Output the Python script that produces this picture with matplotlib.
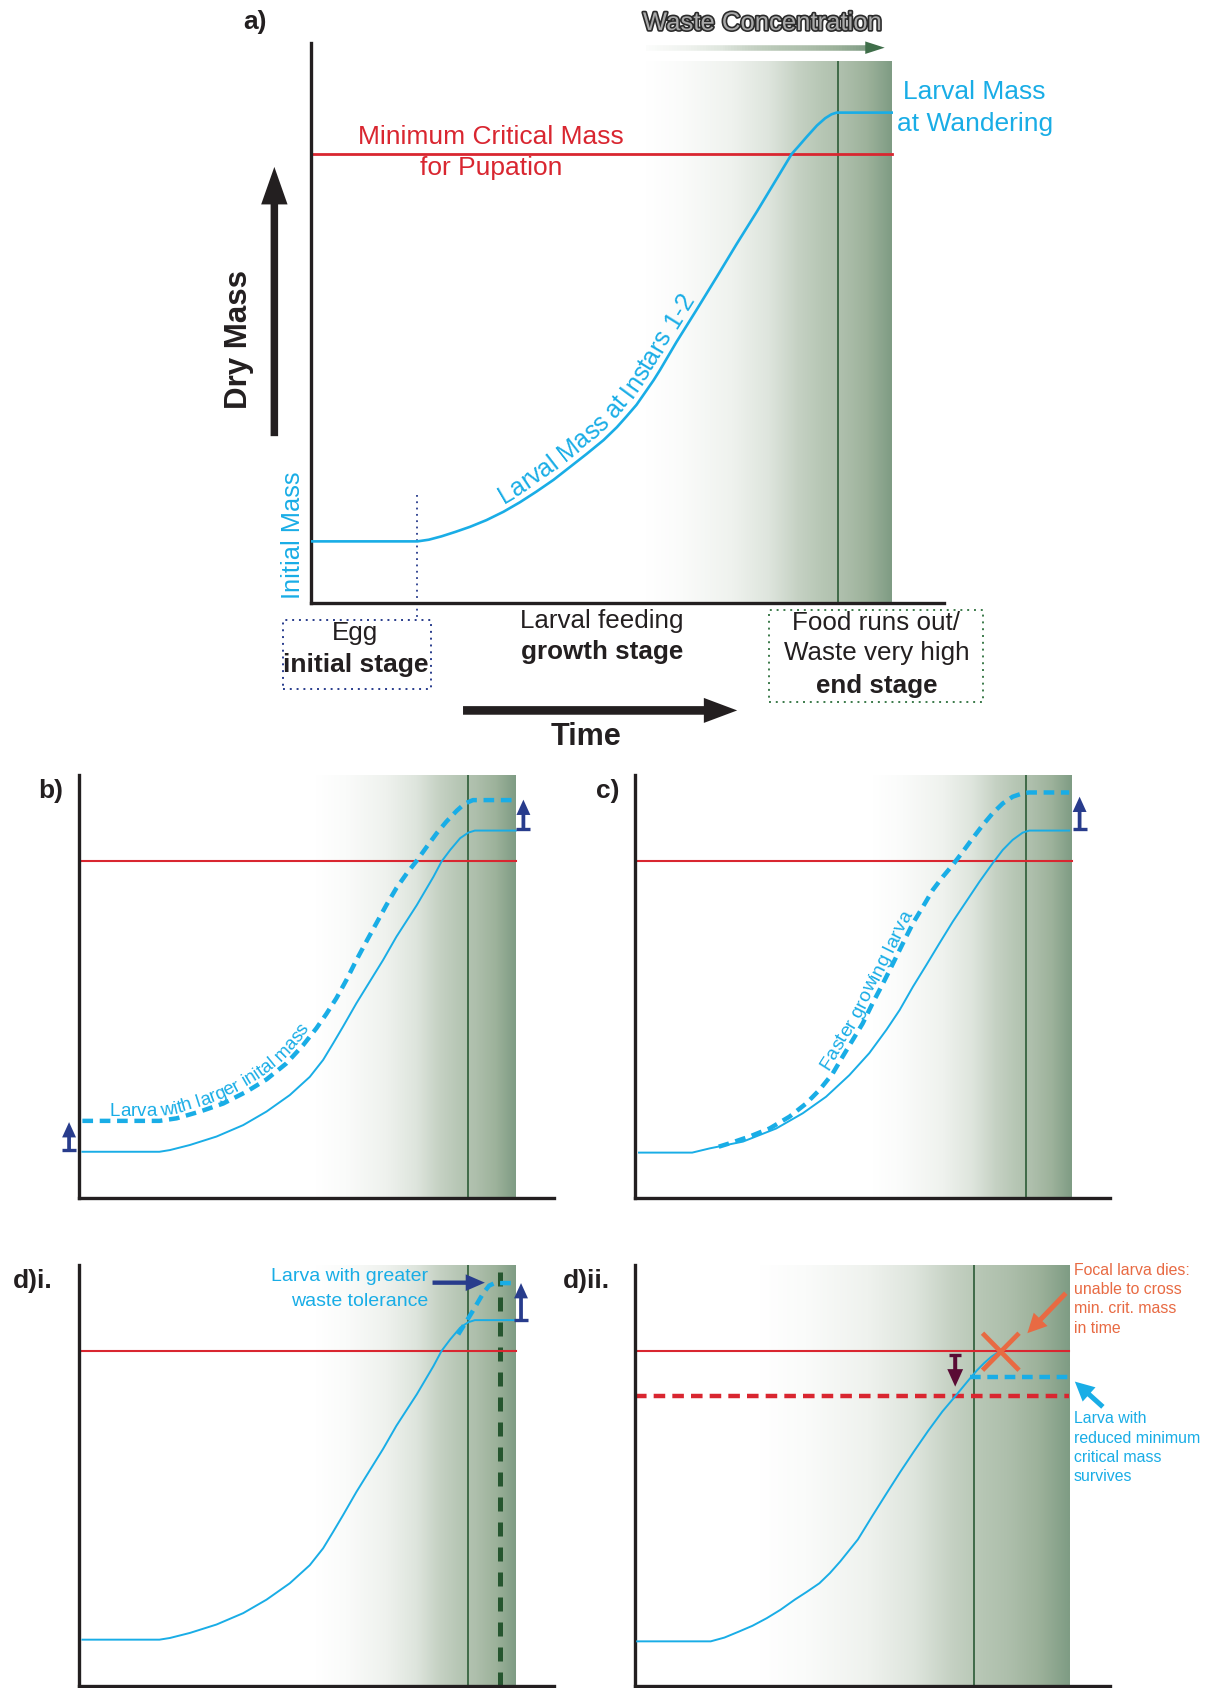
import numpy as np
import matplotlib
matplotlib.use('Agg')
import matplotlib.pyplot as plt
import matplotlib.patheffects as pe
from matplotlib.colors import LinearSegmentedColormap
from matplotlib.collections import LineCollection
from matplotlib.patches import Rectangle
from matplotlib.font_manager import FontProperties
from matplotlib.transforms import IdentityTransform

plt.rcParams['font.family'] = ['Liberation Sans', 'DejaVu Sans']

BLUE = '#19ade6'
RED = '#d92630'
NAVY = '#283c8c'
INK = '#231f20'
GREEN = '#3f6a48'
ORANGE = '#e86a43'
MAROON = '#5a0b35'

# ---- panel a : time / dry mass, both in 0-100 units ----
a_time = [0, 16.8, 18.6, 20.6, 22.8, 25.1, 27.7, 30.4, 33.0, 35.6, 38.3, 40.9,
          43.5, 46.2, 48.3, 49.8, 51.4, 53.0, 54.1, 55.1, 57.7, 60.9, 64.1,
          67.2, 70.4, 73.5, 75.9, 77.0, 78.3, 79.9, 81.2, 82.2, 83.0, 91.7]
a_mass = [11.0, 11.0, 11.3, 11.9, 12.7, 13.6, 14.8, 16.3, 18.0, 19.9, 22.0, 24.3,
          26.6, 29.1, 31.4, 33.3, 35.4, 38.0, 39.8, 41.6, 46.6, 52.4, 58.3,
          64.1, 69.9, 75.7, 80.2, 81.6, 83.3, 85.3, 86.6, 87.3, 87.6, 87.6]
a_crit = 80.2
a_waste = (52.9, 91.7, 96.7)      # start, end, top
a_wander = 83.3
a_egg_end = 16.8

# ---- panels b-d : focal larva ----
base_time = [0.8, 17.0, 19.2, 23.4, 29.0, 34.6, 39.5, 44.4, 48.6, 51.4, 53.5,
             55.6, 58.4, 61.2, 64.0, 66.8, 71.1, 74.6, 76.3, 78.1, 80.2, 81.9,
             83.3, 91.9]
base_mass = [11.0, 11.0, 11.4, 12.6, 14.6, 17.3, 20.5, 24.4, 28.7, 32.7, 36.6,
             40.6, 46.1, 51.2, 56.3, 61.8, 69.3, 76.0, 79.6, 82.3, 85.1, 86.4,
             86.9, 86.9]
crit = 79.6
waste_bcd = (50.0, 91.9, 100)
wander_bcd = 81.9

# b) larger initial mass
b_time = [0.8, 17.0, 20.6, 25.5, 30.4, 35.3, 39.5, 43.7, 47.2, 50.0, 52.1, 54.2,
          56.3, 58.4, 60.5, 62.6, 64.7, 66.8, 69.0, 71.1, 73.2, 75.3, 77.3,
          79.5, 81.2, 82.9, 91.9]
b_mass = [18.3, 18.3, 18.9, 20.5, 22.4, 25.2, 28.1, 31.9, 36.2, 40.2, 43.6, 47.3,
          51.6, 56.3, 60.7, 65.0, 69.3, 73.3, 76.8, 79.8, 83.1, 86.3, 89.0,
          91.6, 93.3, 94.1, 94.1]

# c) faster growth
c_base_time = [0.8, 12.0, 15.7, 22.7, 29.7, 35.3, 40.2, 45.1, 49.3, 52.9, 55.7,
               58.5, 61.3, 64.1, 66.9, 69.7, 72.5, 75.3, 77.4, 79.5, 81.6, 83.0,
               91.4]
c_base_mass = [10.8, 10.8, 11.8, 13.4, 16.5, 20.1, 24.0, 29.1, 34.3, 39.8, 44.5,
               50.0, 55.1, 60.3, 65.4, 70.1, 74.8, 79.2, 82.3, 84.7, 86.4, 86.9,
               86.9]
c_time = [17.6, 19.9, 24.1, 28.3, 32.5, 36.0, 38.8, 41.6, 43.7, 45.8, 47.9, 50.0,
          52.2, 54.3, 56.4, 58.5, 60.6, 62.7, 64.8, 66.9, 69.0, 71.1, 73.2, 75.3,
          77.4, 79.5, 81.6, 83.0, 91.4]
c_mass = [12.2, 13.0, 14.6, 16.5, 19.3, 22.4, 25.6, 29.5, 33.5, 37.4, 41.3, 46.1,
          50.8, 55.5, 60.3, 65.0, 68.9, 72.9, 76.0, 78.8, 81.9, 85.1, 88.2, 91.0,
          93.3, 94.9, 95.7, 95.9, 95.9]
wander_c = 82.4

# d)i greater waste tolerance
di_time = [79.8, 82.5, 85.0, 86.3, 87.5, 91.4]
di_mass = [83.5, 88.4, 93.2, 95.1, 95.7, 95.7]
di_tol_x = 88.5

# d)ii reduced minimum critical mass
dii_time = [0.4, 15.9, 18.8, 21.8, 24.7, 27.7, 30.6, 33.6, 36.2, 38.8, 41.0,
            43.2, 46.9, 49.9, 52.8, 55.8, 58.7, 61.7, 64.7, 67.4, 70.4, 72.0,
            73.5, 75.0, 76.6]
dii_mass = [10.6, 10.6, 11.5, 12.9, 14.3, 16.1, 18.1, 20.5, 22.4, 24.4, 26.8,
            29.6, 34.8, 40.3, 45.5, 50.8, 55.7, 60.6, 65.2, 68.8, 72.9, 75.0,
            76.7, 78.2, 79.4]
dii_crit_low = 68.8
dii_survive = (70.6, 73.3)
dii_waste = (26.0, 91.4, 100)
dii_wander = 71.3

waste_cmap = LinearSegmentedColormap.from_list('waste', [
    (0.0, '#ffffff'), (0.15, '#fafbfa'), (0.35, '#eff2ee'), (0.5, '#dee5dd'),
    (0.62, '#c5d1c3'), (0.72, '#b6c6b4'), (0.8, '#aebfac'), (0.9, '#9db29b'),
    (1.0, '#7f9c84')])
grad = np.linspace(0, 1, 256)[None, :]

fig = plt.figure(figsize=(12.09, 16.88), dpi=100)


def panel(rect):
    ax = fig.add_axes(rect)
    ax.patch.set_visible(False)
    ax.set_xticks([])
    ax.set_yticks([])
    for s in ['top', 'right']:
        ax.spines[s].set_visible(False)
    for s in ['left', 'bottom']:
        ax.spines[s].set_linewidth(2.4)
        ax.spines[s].set_color(INK)
    return ax


def shade(ax, waste, wander):
    x0, x1, top = waste
    ax.imshow(grad, extent=[x0, x1, 0, top], cmap=waste_cmap, aspect='auto',
              interpolation='bilinear', zorder=0)
    ax.plot([wander, wander], [0, top], color=GREEN, lw=1.4, zorder=1)
    ax.set_xlim(0, 100)
    ax.set_ylim(0, 100)


def arrow(ax, tail, head, color, tw, hw, hl, ms=10, z=5):
    ax.annotate('', xy=head, xytext=tail, annotation_clip=False, zorder=z,
                arrowprops=dict(arrowstyle='simple,tail_width=%g,head_width=%g,head_length=%g' % (tw, hw, hl),
                                mutation_scale=ms, fc=color, ec='none', lw=0,
                                shrinkA=0, shrinkB=0))


def up_arrow(ax, x, y0, y1, color=NAVY):
    arrow(ax, (x, y0), (x, y1), color, 0.27, 1.0, 1.1)
    ax.plot([x], [y0], marker='_', ms=10, mew=2.4, color=color, clip_on=False, zorder=5)


def curve_text(ax, xs, ys, text, x0, lift, size, color):
    r = fig.canvas.get_renderer()
    fp = FontProperties(family='Liberation Sans', size=size)
    pts = ax.transData.transform(np.column_stack([xs, ys]))
    arc = np.concatenate([[0], np.cumsum(np.hypot(np.diff(pts[:, 0]), np.diff(pts[:, 1])))])
    s0 = np.interp(x0, xs, arc)
    ref = r.get_text_width_height_descent('x', fp, ismath=False)[0]

    def adv(s):
        return r.get_text_width_height_descent(s + 'x', fp, ismath=False)[0] - ref

    for i, ch in enumerate(text):
        if ch == ' ':
            continue
        s = s0 + (adv(text[:i]) + adv(text[:i + 1])) / 2
        px = np.interp(s, arc, pts[:, 0])
        py = np.interp(s, arc, pts[:, 1])
        dx = np.interp(s + 12, arc, pts[:, 0]) - np.interp(s - 12, arc, pts[:, 0])
        dy = np.interp(s + 12, arc, pts[:, 1]) - np.interp(s - 12, arc, pts[:, 1])
        ang = np.arctan2(dy, dx)
        ax.text(px - lift * np.sin(ang), py + lift * np.cos(ang), ch,
                transform=IdentityTransform(), rotation=np.degrees(ang),
                rotation_mode='anchor', ha='center', va='baseline',
                fontsize=size, color=color)


# ================= panel a =================
ax = panel([0.2573, 0.6428, 0.5237, 0.3316])
shade(ax, a_waste, a_wander)
ax.plot([0, a_waste[1]], [a_crit, a_crit], color=RED, lw=2.0, zorder=2)
ax.plot(a_time, a_mass, color=BLUE, lw=1.9, zorder=3)
ax.plot([a_egg_end, a_egg_end], [a_mass[0] + 8.2, -3.1], color=NAVY, lw=1.3,
        ls=(0, (1, 2.5)), clip_on=False)
curve_text(ax, a_time, a_mass, 'Larval Mass at Instars 1-2', 31.0, 7, 18, BLUE)

ax.text(-8.8, 103.8, 'a)', fontsize=19, fontweight='bold', color=INK,
        ha='center', va='center')
ax.text(71.3, 103.6, 'Waste Concentration', fontsize=18.5, color='#a9a9a9',
        ha='center', va='center',
        path_effects=[pe.withStroke(linewidth=2.4, foreground='#2b2b2b')])
gx = np.linspace(a_waste[0], 88.3, 80)
seg = np.stack([np.column_stack([gx[:-1], np.full(79, 99.2)]),
                np.column_stack([gx[1:], np.full(79, 99.2)])], axis=1)
lc = LineCollection(seg, colors=waste_cmap(np.linspace(0.05, 1, 79) ** 0.7),
                    linewidths=4, clip_on=False)
ax.add_collection(lc)
arrow(ax, (88.0, 99.2), (90.6, 99.2), '#3f6e4a', 0.3, 0.9, 1.4)

ax.text(28.4, 83.3, 'Minimum Critical Mass', fontsize=19, color=RED,
        ha='center', va='center')
ax.text(28.4, 77.7, 'for Pupation', fontsize=19, color=RED,
        ha='center', va='center')
ax.text(104.8, 91.2, 'Larval Mass', fontsize=19, color=BLUE,
        ha='center', va='center')
ax.text(104.8, 85.6, 'at Wandering', fontsize=19, color=BLUE,
        ha='center', va='center')
ax.text(-2.9, 12.1, 'Initial Mass', fontsize=18.3, color=BLUE, rotation=90,
        ha='center', va='center')
ax.text(-11.4, 47.1, 'Dry Mass', fontsize=22.5, fontweight='bold', color=INK,
        rotation=90, ha='center', va='center')
arrow(ax, (-5.8, 29.8), (-5.8, 77.9), INK, 0.27, 0.95, 1.35, ms=20)

ax.add_patch(Rectangle((-4.4, -15.4), 23.3, 12.3, fill=False, ec=NAVY, lw=1.4,
                       ls=(0, (1, 2.5)), clip_on=False))
ax.add_patch(Rectangle((72.3, -17.7), 33.8, 16.5, fill=False, ec='#3b7a4a', lw=1.4,
                       ls=(0, (1, 2.5)), clip_on=False))
ax.text(7.0, -5.4, 'Egg', fontsize=18.7, color=INK, ha='center', va='center')
ax.text(7.0, -11.0, 'initial stage', fontsize=19, fontweight='bold', color=INK,
        ha='center', va='center')
ax.text(45.9, -3.3, 'Larval feeding', fontsize=18.7, color=INK, ha='center', va='center')
ax.text(45.9, -8.8, 'growth stage', fontsize=18.7, fontweight='bold', color=INK,
        ha='center', va='center')
ax.text(89.3, -3.5, 'Food runs out/', fontsize=18.7, color=INK, ha='center', va='center')
ax.text(89.3, -9.0, 'Waste very high', fontsize=18.7, color=INK, ha='center', va='center')
ax.text(89.3, -14.8, 'end stage', fontsize=18.7, fontweight='bold', color=INK,
        ha='center', va='center')
arrow(ax, (24.0, -19.2), (67.3, -19.2), INK, 0.31, 0.9, 1.2, ms=20)
ax.text(43.5, -24.0, 'Time', fontsize=22, fontweight='bold', color=INK,
        ha='center', va='center')

# ================= panel b =================
ax = panel([0.0650, 0.2901, 0.3935, 0.2507])
shade(ax, waste_bcd, wander_bcd)
ax.plot([0, waste_bcd[1]], [crit, crit], color=RED, lw=1.5, zorder=2)
ax.plot(base_time, base_mass, color=BLUE, lw=1.4, zorder=3)
ax.plot(b_time, b_mass, color=BLUE, lw=3.2, dashes=(2.4, 1.5), zorder=3)
curve_text(ax, b_time, b_mass, 'Larva with larger inital mass', 6.6, 5, 13.5, BLUE)
up_arrow(ax, -2.0, 11.4, 18.0)
up_arrow(ax, 93.5, 87.3, 94.2)
ax.text(-5.9, 96.2, 'b)', fontsize=19, fontweight='bold', color=INK,
        ha='center', va='center')

# ================= panel c =================
ax = panel([0.5254, 0.2901, 0.3927, 0.2507])
shade(ax, waste_bcd, wander_c)
ax.plot([0, waste_bcd[1]], [crit, crit], color=RED, lw=1.5, zorder=2)
ax.plot(c_base_time, c_base_mass, color=BLUE, lw=1.4, zorder=3)
ax.plot(c_time, c_mass, color=BLUE, lw=3.2, dashes=(2.4, 1.5), zorder=3)
curve_text(ax, c_time, c_mass, 'Faster growing larva', 41.6, 5, 14, BLUE)
up_arrow(ax, 93.6, 87.3, 94.9)
ax.text(-5.7, 96.2, 'c)', fontsize=19, fontweight='bold', color=INK,
        ha='center', va='center')

# ================= panel d)i =================
ax = panel([0.0650, 0.0012, 0.3935, 0.2494])
shade(ax, waste_bcd, wander_bcd)
ax.plot([di_tol_x, di_tol_x], [0, 100], color='#25552f', lw=3.6,
        dashes=(2.8, 2.2), zorder=2)
ax.plot([0, waste_bcd[1]], [crit, crit], color=RED, lw=1.5, zorder=2)
ax.plot(base_time, base_mass, color=BLUE, lw=1.4, zorder=3)
ax.plot(di_time, di_mass, color=BLUE, lw=3.2, dashes=(2.4, 1.5), zorder=3)
up_arrow(ax, 93.0, 86.9, 95.7)
ax.text(73.5, 97.2, 'Larva with greater', fontsize=14, color=BLUE,
        ha='right', va='center')
ax.text(73.5, 91.3, 'waste tolerance', fontsize=14, color=BLUE,
        ha='right', va='center')
arrow(ax, (74.4, 95.8), (85.4, 95.8), NAVY, 0.26, 1.0, 1.15, ms=12)
ax.text(-9.7, 96.2, 'd)i.', fontsize=19, fontweight='bold', color=INK,
        ha='center', va='center')

# ================= panel d)ii =================
ax = panel([0.5254, 0.0012, 0.3927, 0.2494])
shade(ax, dii_waste, dii_wander)
ax.plot([0, dii_waste[1]], [crit, crit], color=RED, lw=1.5, zorder=2)
ax.plot([0, dii_waste[1]], [dii_crit_low, dii_crit_low], color=RED, lw=3.2,
        dashes=(2.6, 1.6), zorder=2)
ax.plot(dii_time, dii_mass, color=BLUE, lw=1.4, zorder=3)
ax.plot([dii_survive[0], dii_waste[1]], [dii_survive[1], dii_survive[1]],
        color=BLUE, lw=3.2, dashes=(2.4, 1.5), zorder=3)
ax.plot([73.5, 80.5], [83.4, 75.4], color=ORANGE, lw=3.4, zorder=4)
ax.plot([73.5, 80.5], [75.4, 83.4], color=ORANGE, lw=3.4, zorder=4)
arrow(ax, (90.7, 93.3), (82.6, 83.8), ORANGE, 0.3, 1.15, 1.15, ms=12)
arrow(ax, (98.5, 66.3), (92.6, 72.3), BLUE, 0.3, 1.15, 1.15, ms=12)
arrow(ax, (67.4, 78.6), (67.4, 71.1), MAROON, 0.24, 0.95, 1.05, ms=12)
ax.plot([67.4], [78.6], marker='_', ms=9, mew=2.4, color=MAROON, zorder=5)
ax.text(92.4, 91.9, 'Focal larva dies:\nunable to cross\nmin. crit. mass\nin time',
        fontsize=11.4, color=ORANGE, ha='left', va='center', linespacing=1.36)
ax.text(92.4, 56.6, 'Larva with\nreduced minimum\ncritical mass\nsurvives',
        fontsize=11.4, color=BLUE, ha='left', va='center', linespacing=1.36)
ax.text(-10.2, 96.2, 'd)ii.', fontsize=19, fontweight='bold', color=INK,
        ha='center', va='center')

fig.savefig('out.png', dpi=100)
